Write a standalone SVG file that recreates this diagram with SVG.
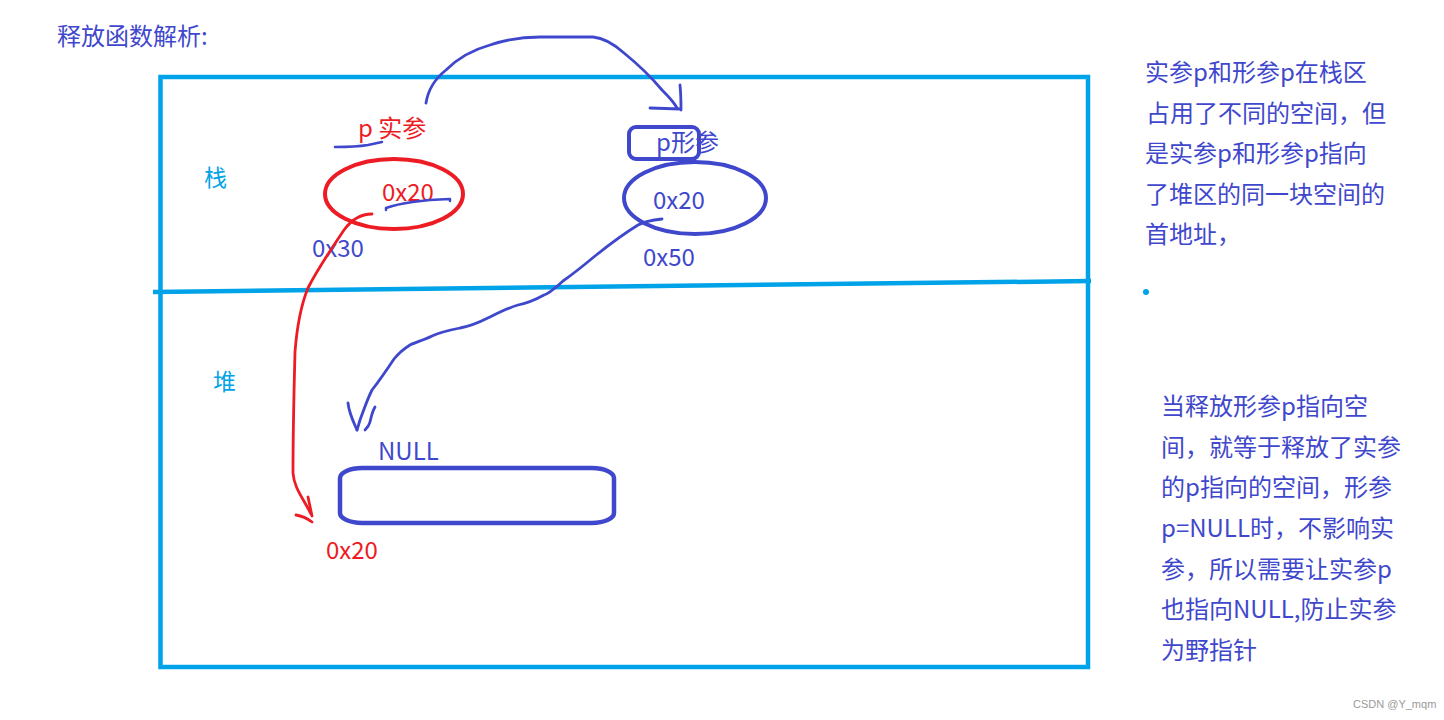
<svg xmlns="http://www.w3.org/2000/svg" width="1444" height="720" viewBox="0 0 1444 720">
<style>
  text { font-family: "Noto Sans CJK SC", "Microsoft YaHei", sans-serif; font-size: 24px; }
  .navy { fill: #3F48CC; }
  .red { fill: #ED1C24; }
  .sky { fill: #00A2E8; }
  .frame { fill: none; stroke: #00A2E8; stroke-width: 4.5; }
  .bstroke { fill: none; stroke: #3F48CC; stroke-linecap: round; stroke-linejoin: round; }
  .rstroke { fill: none; stroke: #ED1C24; stroke-linecap: round; stroke-linejoin: round; }
</style>
<rect width="1444" height="720" fill="#ffffff"/>

<g id="title"><text x="57" y="45" class="navy">释放函数解析:</text></g>

<g id="memory-frame">
  <rect x="160.5" y="77" width="927.5" height="590" class="frame"/>
  <line x1="153" y1="292" x2="1091" y2="281" class="frame"/>
</g>

<g id="stack-label"><text x="204" y="186" class="sky" style="font-size:23px">栈</text></g>
<g id="heap-label"><text x="213" y="390" class="sky" style="font-size:23px">堆</text></g>

<g id="actual-param">
  <text x="358" y="137" class="red">p 实参</text>
  <ellipse cx="394" cy="194" rx="69" ry="35" class="rstroke" stroke-width="4"/>
  <text x="382" y="201" class="red">0x20</text>
  <text x="312" y="257" class="navy">0x30</text>
</g>

<g id="formal-param">
  <rect x="629" y="127" width="70" height="32" rx="7" class="bstroke" stroke-width="4"/>
  <text x="656" y="151" class="navy">p形参</text>
  <ellipse cx="695" cy="198" rx="71" ry="36" class="bstroke" stroke-width="4"/>
  <text x="653" y="209" class="navy">0x20</text>
  <text x="643" y="266" class="navy">0x50</text>
</g>

<g id="heap-block">
  <text x="378" y="460" class="navy">NULL</text>
  <rect x="340" y="468" width="274" height="55" rx="22" ry="10" class="bstroke" stroke-width="4.5"/>
  <text x="326" y="559" class="red">0x20</text>
</g>

<g id="note-1">
  <text class="navy">
    <tspan x="1145" y="81">实参p和形参p在栈区</tspan>
    <tspan x="1146" y="122">占用了不同的空间，但</tspan>
    <tspan x="1145" y="162">是实参p和形参p指向</tspan>
    <tspan x="1145" y="203">了堆区的同一块空间的</tspan>
    <tspan x="1145" y="243">首地址，</tspan>
  </text>
  <circle cx="1146" cy="292" r="3" fill="#00A2E8"/>
</g>

<g id="note-2">
  <text class="navy">
    <tspan x="1161" y="415">当释放形参p指向空</tspan>
    <tspan x="1161" y="456">间，就等于释放了实参</tspan>
    <tspan x="1161" y="496">的p指向的空间，形参</tspan>
    <tspan x="1161" y="537">p=NULL时，不影响实</tspan>
    <tspan x="1161" y="578">参，所以需要让实参p</tspan>
    <tspan x="1161" y="618">也指向NULL,防止实参</tspan>
    <tspan x="1161" y="659">为野指针</tspan>
  </text>
</g>

<g id="watermark"><text x="1353" y="708" fill="#9a9a9a" style="font-family:'Liberation Sans',sans-serif;font-size:11px">CSDN @Y_mqm</text></g>

<g id="connectors">
  <!-- underline under p 实参 -->
  <path d="M335,147 C350,147 362,146 368,145 L382,142" class="bstroke" stroke-width="2.5"/>
  <!-- underline under red 0x20 -->
  <path d="M386,210 L386,208 C400,203 420,200 450,199 L450,201" class="bstroke" stroke-width="2.5"/>
  <!-- arc from actual to formal -->
  <path d="M426,103 C428,90 436,78 446,70 C458,58 472,50 490,45 C505,40 520,37 540,37 L593,37 C605,38 615,45 624,53 C640,66 652,78 662,90 C670,98 675,104 677,108" class="bstroke" stroke-width="2.8"/>
  <path d="M680,85 C681,95 681,102 681,110 M650,108 L680,109" class="bstroke" stroke-width="2.8"/>
  <!-- red arrow: 0x20 value points to heap 0x20 -->
  <path d="M372,214 C362,214 352,219 344,230 C332,248 318,268 308,288 C301,305 297,326 295,352 C294,390 293,430 293,473 C294,488 303,498 311,514" class="rstroke" stroke-width="2.8"/>
  <path d="M308,497 L312,516 M296,515 C302,516 308,519 312,522" class="rstroke" stroke-width="2.8"/>
  <!-- blue arrow: formal 0x20 to heap -->
  <path d="M662,219 C652,220 645,221 638,225 C625,233 610,244 595,256 C583,266 573,274 563,281 C555,288 550,293 544,295 C535,300 528,303 518,305 C508,308 500,312 490,317 C480,322 473,326 460,328 C450,330 440,332 432,336 C424,340 416,342 410,345 C402,350 398,354 394,359 C388,368 380,380 372,390 C367,400 363,412 360,420 L357,430" class="bstroke" stroke-width="2.8"/>
  <path d="M348,403 C349,413 353,421 357,430 M375,407 C372,412 371,418 370,422 C369,426 367,428 365,430" class="bstroke" stroke-width="2.8"/>
</g>
</svg>
